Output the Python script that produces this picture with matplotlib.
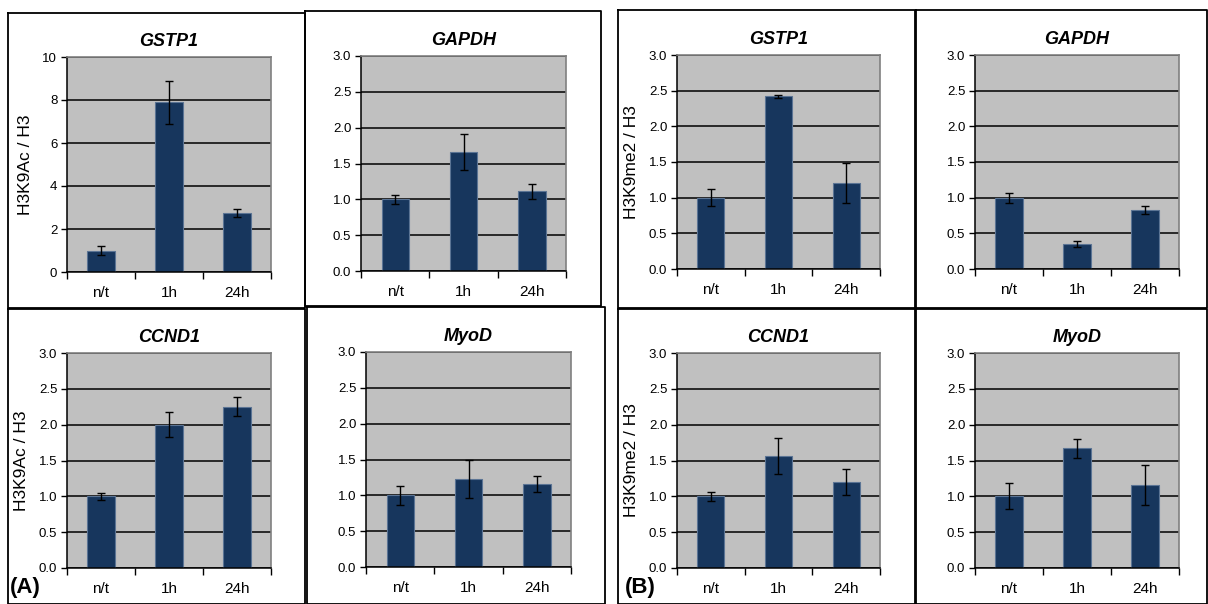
import matplotlib
matplotlib.use("Agg")
import matplotlib.pyplot as plt
from matplotlib.lines import Line2D
import numpy as np

plt.rcParams['font.family'] = ['Liberation Sans', 'DejaVu Sans']

W, H = 1208, 604

categories = ["n/t", "1h", "24h"]

# panel A: H3K9Ac / H3
a_gstp1 = [1.0, 7.9, 2.75]
a_gstp1_err = [0.2, 1.0, 0.2]
a_gapdh = [1.0, 1.66, 1.11]
a_gapdh_err = [0.06, 0.25, 0.11]
a_ccnd1 = [1.0, 2.0, 2.25]
a_ccnd1_err = [0.05, 0.17, 0.13]
a_myod = [1.0, 1.23, 1.16]
a_myod_err = [0.13, 0.27, 0.11]

# panel B: H3K9me2 / H3
b_gstp1 = [1.0, 2.42, 1.21]
b_gstp1_err = [0.12, 0.02, 0.28]
b_gapdh = [1.0, 0.35, 0.83]
b_gapdh_err = [0.07, 0.04, 0.06]
b_ccnd1 = [1.0, 1.56, 1.2]
b_ccnd1_err = [0.06, 0.25, 0.18]
b_myod = [1.0, 1.67, 1.16]
b_myod_err = [0.18, 0.13, 0.28]

fig = plt.figure(figsize=(W / 100, H / 100), dpi=100)


def rect(x0, y0, x1, y1):
    return [x0 / W, 1 - y1 / H, (x1 - x0) / W, (y1 - y0) / H]


def box(x0, y0, x1, y1):
    xs = [x0 / W, x1 / W, x1 / W, x0 / W, x0 / W]
    ys = [1 - y0 / H, 1 - y0 / H, 1 - y1 / H, 1 - y1 / H, 1 - y0 / H]
    fig.add_artist(Line2D(xs, ys, color="black", lw=1.3, transform=fig.transFigure))


def panel(pos, vals, errs, title, ymax, ystep, fmt, ylabel=None):
    ax = fig.add_axes(rect(*pos))
    x = np.arange(len(categories))
    ax.set_facecolor("#c0c0c0")
    ax.set_axisbelow(True)
    ax.bar(x, vals, width=0.4, color="#17365d", edgecolor="#5b7494", linewidth=0.8,
           yerr=errs, capsize=3, error_kw=dict(ecolor="black", elinewidth=1, capthick=1))
    ax.set_xlim(-0.5, 2.5)
    ax.set_ylim(0, ymax)
    yt = np.arange(0, ymax + ystep / 2, ystep)
    ax.set_yticks(yt)
    ax.set_yticklabels([fmt.format(v) for v in yt], fontsize=9.5)
    ax.yaxis.grid(True, color="black", lw=1.1)
    ax.set_xticks(x)
    ax.set_xticklabels(categories, fontsize=11)
    ax.set_xticks([-0.5, 0.5, 1.5, 2.5], minor=True)
    ax.tick_params(axis="x", which="major", length=0, pad=10)
    ax.tick_params(axis="x", which="minor", length=5, width=1, direction="out")
    ax.tick_params(axis="y", length=4, width=1, direction="out", pad=3)
    for s in ["top", "right"]:
        ax.spines[s].set_color("#808080")
        ax.spines[s].set_linewidth(1.2)
    for s in ["left", "bottom"]:
        ax.spines[s].set_color("black")
        ax.spines[s].set_linewidth(1.1)
    ax.set_title(title, fontsize=13, fontweight="bold", fontstyle="italic", pad=8)
    if ylabel:
        ax.set_ylabel(ylabel, fontsize=12.5, labelpad=7)
    return ax


# panel borders
box(8, 13, 305, 308)
box(305, 11, 601, 306)
box(8, 309, 305, 604)
box(307, 307, 605, 604)
box(618, 10, 915, 308)
box(916, 10, 1207, 308)
box(618, 309, 915, 604)
box(916, 309, 1207, 604)

panel((67, 57, 271, 272), a_gstp1, a_gstp1_err, "GSTP1", 10, 2, "{:.0f}", "H3K9Ac / H3")
panel((361, 56, 566, 271), a_gapdh, a_gapdh_err, "GAPDH", 3, 0.5, "{:.1f}")
panel((67, 353, 271, 568), a_ccnd1, a_ccnd1_err, "CCND1", 3, 0.5, "{:.1f}", "H3K9Ac / H3")
panel((366, 352, 571, 567), a_myod, a_myod_err, "MyoD", 3, 0.5, "{:.1f}")

panel((677, 55, 880, 269), b_gstp1, b_gstp1_err, "GSTP1", 3, 0.5, "{:.1f}", "H3K9me2 / H3")
panel((975, 55, 1179, 269), b_gapdh, b_gapdh_err, "GAPDH", 3, 0.5, "{:.1f}")
panel((677, 353, 880, 568), b_ccnd1, b_ccnd1_err, "CCND1", 3, 0.5, "{:.1f}", "H3K9me2 / H3")
panel((975, 353, 1179, 568), b_myod, b_myod_err, "MyoD", 3, 0.5, "{:.1f}")

fig.text(25 / W, 1 - 587 / H, "(A)", fontsize=16, fontweight="bold", ha="center", va="center")
fig.text(640 / W, 1 - 587 / H, "(B)", fontsize=16, fontweight="bold", ha="center", va="center")

fig.savefig("out.png", dpi=100, facecolor="white")
